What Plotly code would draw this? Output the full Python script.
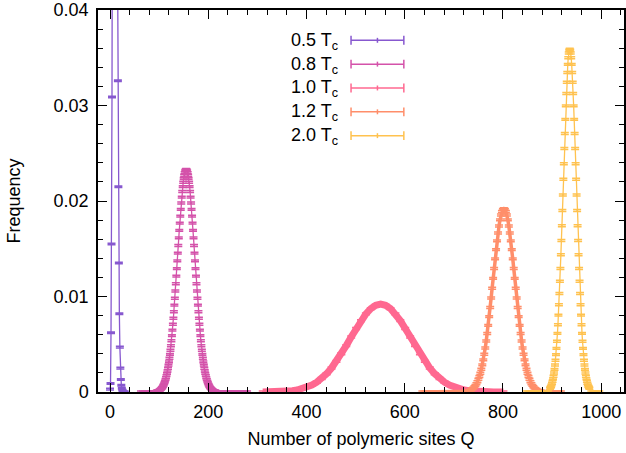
import plotly.graph_objects as go

# ---------------- data ----------------
LABELS = ["0.5 T<sub>c</sub>", "0.8 T<sub>c</sub>", "1.0 T<sub>c</sub>", "1.2 T<sub>c</sub>", "2.0 T<sub>c</sub>"]
COLORS = ["#8758cf", "#d452aa", "#ff6890", "#ff8e6a", "#ffc24f"]

Q_05 = list(range(0, 31))
F_05 = [0.0003, 0.0009, 0.0062, 0.0155, 0.0309, 0.0620, 0.0850, 0.0970, 0.1000, 0.1010,
        0.0970, 0.0930, 0.0830, 0.0710, 0.0580, 0.0455, 0.0326, 0.0215, 0.0135, 0.0082,
        0.0047, 0.0025, 0.0013, 0.0007, 0.0004, 0.0002, 0.0001, 0.00005, 0.0, 0.0, 0.0]
ERR_05 = 0.00008

Q_08 = list(range(63, 92, 4)) + list(range(95, 216, 1)) + list(range(219, 280, 4))
F_08 = [0.0] * 8 + [
    0.00007, 0.00008, 0.00010, 0.00012, 0.00014, 0.00017, 0.00020, 0.00024, 0.00028, 0.00033,
    0.00039, 0.00046, 0.00054, 0.00063, 0.00074, 0.00085, 0.00099, 0.00114, 0.00131, 0.00150,
    0.00171, 0.00195, 0.00220, 0.00249, 0.00281, 0.00315, 0.00353, 0.00394, 0.00438, 0.00485,
    0.00536, 0.00590, 0.00648, 0.00709, 0.00773, 0.00840, 0.00910, 0.00982, 0.01057, 0.01134,
    0.01213, 0.01292, 0.01373, 0.01454, 0.01534, 0.01614, 0.01692, 0.01768, 0.01842, 0.01912,
    0.01979, 0.02041, 0.02099, 0.02151, 0.02197, 0.02237, 0.02270, 0.02296, 0.02315, 0.02326,
    0.02330,
    0.02326, 0.02315, 0.02296, 0.02270, 0.02237, 0.02197, 0.02151, 0.02099, 0.02041, 0.01979,
    0.01912, 0.01842, 0.01768, 0.01692, 0.01614, 0.01534, 0.01454, 0.01373, 0.01292, 0.01213,
    0.01134, 0.01057, 0.00982, 0.00910, 0.00840, 0.00773, 0.00709, 0.00648, 0.00590, 0.00536,
    0.00485, 0.00438, 0.00394, 0.00353, 0.00315, 0.00281, 0.00249, 0.00220, 0.00195, 0.00171,
    0.00150, 0.00131, 0.00114, 0.00099, 0.00085, 0.00074, 0.00063, 0.00054, 0.00046, 0.00039,
    0.00033, 0.00028, 0.00024, 0.00020, 0.00017, 0.00014, 0.00012, 0.00010, 0.00008, 0.00007,
] + [0.0] * 16
ERR_08 = 0.0001

Q_10 = list(range(311, 802, 10))
F_10 = [
    0.00001, 0.00001, 0.00002, 0.00003, 0.00005, 0.00008, 0.00014, 0.00021, 0.00033, 0.00049,
    0.00072, 0.00102, 0.00141, 0.00191, 0.00251, 0.00321, 0.00400, 0.00486, 0.00576, 0.00665,
    0.00747, 0.00818, 0.00873, 0.00908,
    0.00920,
    0.00908, 0.00873, 0.00818, 0.00747, 0.00665, 0.00576, 0.00486, 0.00400, 0.00321, 0.00251,
    0.00191, 0.00141, 0.00102, 0.00072, 0.00049, 0.00033, 0.00021, 0.00014, 0.00008, 0.00005,
    0.00003, 0.00002, 0.00001, 0.00001, 0.0,
]
ERR_10 = 0.0001

Q_12 = list(range(636, 717, 4)) + list(range(722, 883, 2)) + list(range(886, 919, 4))
F_12 = [0.0] * 21 + [
    0.00003, 0.00005, 0.00006, 0.00009, 0.00011, 0.00015, 0.00020, 0.00026, 0.00034, 0.00043,
    0.00055, 0.00069, 0.00087, 0.00108, 0.00133, 0.00163, 0.00197, 0.00238, 0.00284, 0.00336,
    0.00395, 0.00461, 0.00534, 0.00613, 0.00698, 0.00789, 0.00885, 0.00985, 0.01087, 0.01190,
    0.01293, 0.01394, 0.01491, 0.01582, 0.01665, 0.01739, 0.01802, 0.01853, 0.01890, 0.01912,
    0.01920,
    0.01912, 0.01890, 0.01853, 0.01802, 0.01739, 0.01665, 0.01582, 0.01491, 0.01394, 0.01293,
    0.01190, 0.01087, 0.00985, 0.00885, 0.00789, 0.00698, 0.00613, 0.00534, 0.00461, 0.00395,
    0.00336, 0.00284, 0.00238, 0.00197, 0.00163, 0.00133, 0.00108, 0.00087, 0.00069, 0.00055,
    0.00043, 0.00034, 0.00026, 0.00020, 0.00015, 0.00011, 0.00009, 0.00006, 0.00005, 0.00003,
] + [0.0] * 9
ERR_12 = 0.0001

Q_20 = list(range(848, 893, 4)) + list(range(896, 977, 1)) + list(range(980, 997, 4))
F_20 = [0.0] * 12 + [
    0.00039, 0.00049, 0.00061, 0.00075, 0.00092, 0.00113, 0.00137, 0.00165, 0.00199, 0.00237,
    0.00282, 0.00333, 0.00391, 0.00457, 0.00531, 0.00614, 0.00705, 0.00805, 0.00914, 0.01032,
    0.01159, 0.01294, 0.01437, 0.01586, 0.01741, 0.01901, 0.02063, 0.02227, 0.02390, 0.02550,
    0.02706, 0.02855, 0.02996, 0.03126, 0.03243, 0.03345, 0.03431, 0.03500, 0.03550, 0.03580,
    0.03590,
    0.03580, 0.03550, 0.03500, 0.03431, 0.03345, 0.03243, 0.03126, 0.02996, 0.02855, 0.02706,
    0.02550, 0.02390, 0.02227, 0.02063, 0.01901, 0.01741, 0.01586, 0.01437, 0.01294, 0.01159,
    0.01032, 0.00914, 0.00805, 0.00705, 0.00614, 0.00531, 0.00457, 0.00391, 0.00333, 0.00282,
    0.00237, 0.00199, 0.00165, 0.00137, 0.00113, 0.00092, 0.00075, 0.00061, 0.00049, 0.00039,
] + [0.0] * 5
ERR_20 = 0.0001

X_TICKS = [0, 200, 400, 600, 800, 1000]
Y_TICKS = [0, 0.01, 0.02, 0.03, 0.04]
Y_TICKTEXT = ["0", "0.01", "0.02", "0.03", "0.04"]

SERIES = [
    (Q_05, F_05, ERR_05, 1.3),
    (Q_08, F_08, ERR_08, 1.3),
    (Q_10, F_10, ERR_10, 7.0),
    (Q_12, F_12, ERR_12, 3.5),
    (Q_20, F_20, ERR_20, 1.3),
]

# ---------------- figure ----------------
W, H = 626, 453
ML, MR, MT, MB = 98, 0, 5, 61
FONT = "Liberation Sans, Arial, Helvetica, sans-serif"
FS = 18

fig = go.Figure()
for (q, f, err, lw), name, col in zip(SERIES, LABELS, COLORS):
    fig.add_trace(go.Scatter(
        x=q, y=f, mode="lines", name=name,
        line=dict(color=col, width=lw),
        error_y=dict(type="constant", value=err, width=4, thickness=1.5, color=col),
        showlegend=False,
    ))

axis_common = dict(
    showline=True, linecolor="black", linewidth=1.5, mirror="ticks",
    ticks="inside", tickcolor="black", tickwidth=1, ticklen=9,
    showgrid=False, zeroline=False, ticklabeloverflow="allow",
    tickfont=dict(family=FONT, size=FS, color="black"),
)
fig.update_xaxes(
    range=[-24.5, 1046.5], tickvals=X_TICKS, ticklabelstandoff=3,
    minor=dict(dtick=40, tick0=0, ticks="inside", ticklen=5, tickcolor="black", tickwidth=1),
    title=dict(text="Number of polymeric sites Q", font=dict(family=FONT, size=FS, color="black"), standoff=11),
    **axis_common,
)
fig.update_yaxes(
    range=[0, 0.0400001], tickvals=Y_TICKS, ticktext=Y_TICKTEXT, ticklabelstandoff=4,
    minor=dict(dtick=0.002, tick0=0, ticks="inside", ticklen=5, tickcolor="black", tickwidth=1),
    title=dict(text="Frequency", font=dict(family=FONT, size=FS, color="black"), standoff=28),
    **axis_common,
)

# manual key (gnuplot style: text right aligned, sample with end ticks)
PW, PH = W - ML - MR, H - MT - MB
def px(x):
    return (x - ML) / PW
def py(y):
    return (H - MB - y) / PH

KEY_TEXT_RIGHT = 341
KEY_X0, KEY_X1 = 352, 405
KEY_Y0, KEY_DY = 35.7, 24.15
shapes = []
annots = []
for i, (name, col) in enumerate(zip(LABELS, COLORS)):
    yc = KEY_Y0 + i * KEY_DY
    shapes.append(dict(type="line", xref="paper", yref="paper", x0=px(KEY_X0), x1=px(KEY_X1),
                       y0=py(yc), y1=py(yc), line=dict(color=col, width=1.5)))
    for xx, hh in ((KEY_X0, 4.5), (KEY_X1, 4.5), ((KEY_X0 + KEY_X1) / 2, 2.5)):
        shapes.append(dict(type="line", xref="paper", yref="paper", x0=px(xx), x1=px(xx),
                           y0=py(yc - hh), y1=py(yc + hh), line=dict(color=col, width=1.5)))
    annots.append(dict(text=name, xref="paper", yref="paper", x=px(KEY_TEXT_RIGHT), y=py(yc + 1),
                       xanchor="right", yanchor="middle", showarrow=False,
                       font=dict(family=FONT, size=FS, color="black")))

fig.update_layout(
    width=W, height=H,
    margin=dict(l=ML, r=MR, t=MT, b=MB, pad=0),
    paper_bgcolor="white", plot_bgcolor="white",
    shapes=shapes, annotations=annots,
    font=dict(family=FONT, size=FS, color="black"),
)

fig.write_html("out.html")
